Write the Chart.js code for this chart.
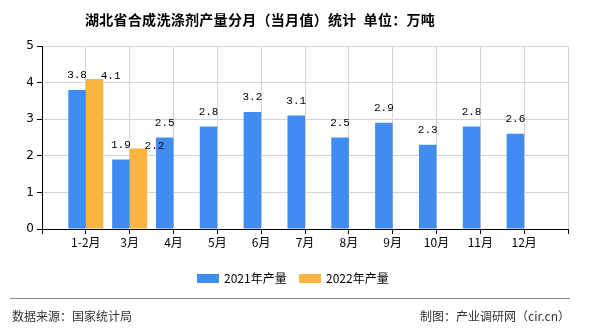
<!DOCTYPE html>
<html lang="zh">
<head>
  <meta charset="UTF-8" />
  <title>湖北省合成洗涤剂产量分月（当月值）统计</title>
  <script src="https://cdn.jsdelivr.net/npm/chart.js"></script>
  <style>
    body { margin: 0; background: #fff; font-family: "Noto Sans CJK SC", sans-serif; }
    #wrap { position: relative; width: 590px; height: 330px; overflow: hidden; }
    #chartBox { position: absolute; left: 0; top: 0; width: 590px; height: 330px; }
    .title { position: absolute; left: 0; width: 520px; top: 9px; text-align: center; font-size: 14px; font-weight: bold; color: #000; white-space: pre; letter-spacing: 0.3px; }
    .legend { position: absolute; top: 270px; left: 197px; font-size: 12px; color: #000; }
    .legend span.item { position: absolute; top: 0; white-space: nowrap; line-height: 16px; }
    .legend i { display: inline-block; width: 22px; height: 9px; margin-right: 5px; vertical-align: 0px; }
    .rule { position: absolute; left: 10px; width: 560px; top: 298px; border-top: 1px solid #888; }
    .foot { position: absolute; top: 307px; font-size: 12px; color: #333; line-height: 18px; }
  </style>
</head>
<body>
<div id="wrap">
  <div id="chartBox"><canvas id="chart"></canvas></div>
  <div class="title">湖北省合成洗涤剂产量分月（当月值）统计  单位：万吨</div>
  <div class="legend">
    <span class="item" style="left:0"><i style="background:#418CF0"></i>2021年产量</span>
    <span class="item" style="left:102px"><i style="background:#FCB441"></i>2022年产量</span>
  </div>
  <div class="rule"></div>
  <div class="foot" style="left:12px">数据来源：国家统计局</div>
  <div class="foot" style="right:20px">制图：产业调研网（cir.cn）</div>
</div>

<script>
  // 数据
  const months = ['1-2月', '3月', '4月', '5月', '6月', '7月', '8月', '9月', '10月', '11月', '12月'];
  const output2021 = [3.8, 1.9, 2.5, 2.8, 3.2, 3.1, 2.5, 2.9, 2.3, 2.8, 2.6];
  const output2022 = [4.1, 2.2, null, null, null, null, null, null, null, null, null];
  const yTicks = [0, 1, 2, 3, 4, 5];

  // 两端各留一个空位
  const labels = ['', ...months, ''];
  const pad = arr => [null, ...arr, null];

  const valueLabels = {
    id: 'valueLabels',
    afterDatasetsDraw(chart) {
      const ctx = chart.ctx;
      ctx.save();
      ctx.font = '11px "Liberation Mono", monospace';
      ctx.fillStyle = '#000';
      ctx.textAlign = 'center';
      ctx.textBaseline = 'bottom';
      chart.data.datasets.forEach((ds, di) => {
        chart.getDatasetMeta(di).data.forEach((bar, i) => {
          const v = ds.data[i];
          if (v == null) return;
          let x = bar.x, y = bar.y - 9;
          if (di === 1) { x += 16; y += 12; }
          ctx.fillText(v.toFixed(1), x, y);
        });
      });
      ctx.restore();
    }
  };

  new Chart(document.getElementById('chart'), {
    type: 'bar',
    data: {
      labels: labels,
      datasets: [
        { label: '2021年产量', data: pad(output2021), backgroundColor: '#418CF0' },
        { label: '2022年产量', data: pad(output2022), backgroundColor: '#FCB441' }
      ]
    },
    options: {
      responsive: true,
      maintainAspectRatio: false,
      animation: false,
      layout: { padding: { left: 0, top: 46, right: 22, bottom: 71 } },
      datasets: { bar: { categoryPercentage: 0.8, barPercentage: 1 } },
      plugins: { legend: { display: false }, tooltip: { enabled: false } },
      scales: {
        x: {
          offset: false,
          grid: { color: '#d4d4d4', tickColor: '#000', tickLength: 5, offset: false },
          border: { color: '#000', width: 1 },
          ticks: { color: '#000', font: { size: 12, family: '"Noto Sans CJK SC", sans-serif' }, padding: 1, maxRotation: 0, autoSkip: false },
          afterFit(s) { s.height = 30; }
        },
        y: {
          min: 0, max: 5,
          afterBuildTicks(s) { s.ticks = yTicks.map(v => ({ value: v })); },
          grid: { color: '#d4d4d4', tickColor: '#000', tickLength: 5 },
          border: { color: '#000', width: 1 },
          ticks: { color: '#000', font: { size: 12, family: '"DejaVu Sans", sans-serif' }, padding: 3 },
          afterFit(s) { s.width = 42; }
        }
      }
    },
    plugins: [valueLabels]
  });
</script>
</body>
</html>
